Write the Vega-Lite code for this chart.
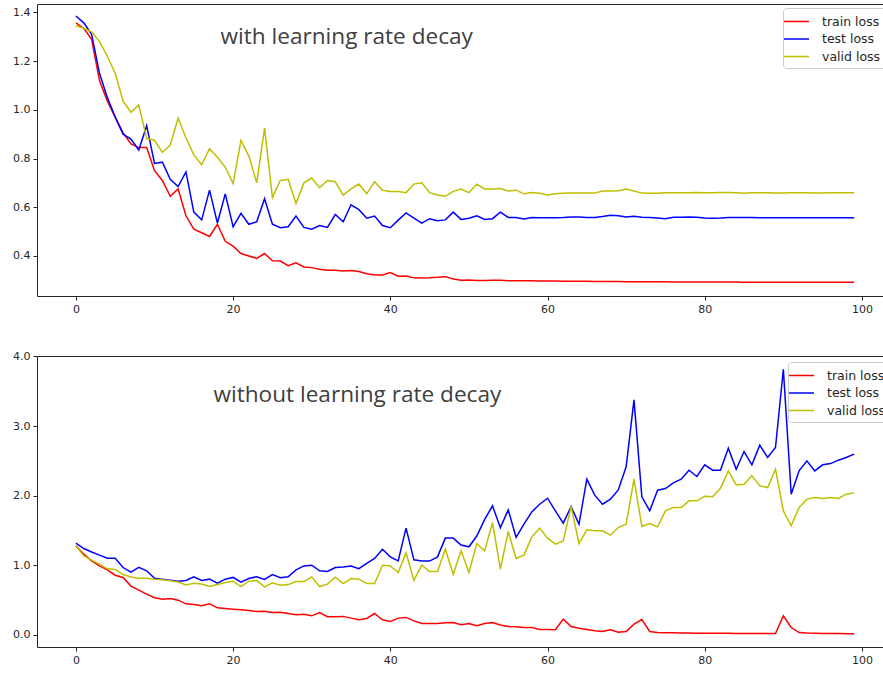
{
"$schema": "https://vega.github.io/schema/vega-lite/v6.json",
"padding": {"left": 12, "top": 3, "right": 0, "bottom": 0},
"bounds": "flush",
"spacing": 60,
"config": {
  "view": {"stroke": "#262626", "strokeWidth": 1},
  "axis": {"labelFont": "DejaVu Sans", "labelFontSize": 11, "labelColor": "#262626", "tickColor": "#262626", "tickSize": 4, "labelPadding": 3, "domain": false, "grid": false, "title": null},
  "legend": {"orient": "none", "symbolType": "M-1.667,0H1.667", "symbolSize": 225, "symbolStrokeWidth": 1.5, "labelFontSize": 12.5, "labelFont": "DejaVu Sans", "labelColor": "#262626", "fillColor": "rgba(255,255,255,0.8)", "strokeColor": "#cccccc", "padding": 5, "rowPadding": 2.5, "cornerRadius": 3, "labelOffset": 17}
},
"datasets": {
"decay": [
{"epoch":0,"train loss":1.357,"test loss":1.385,"valid loss":1.345},
{"epoch":1,"train loss":1.335,"test loss":1.357,"valid loss":1.335},
{"epoch":2,"train loss":1.29,"test loss":1.31,"valid loss":1.32},
{"epoch":3,"train loss":1.12,"test loss":1.15,"valid loss":1.28},
{"epoch":4,"train loss":1.035,"test loss":1.05,"valid loss":1.22},
{"epoch":5,"train loss":0.97,"test loss":0.97,"valid loss":1.15},
{"epoch":6,"train loss":0.905,"test loss":0.9,"valid loss":1.035},
{"epoch":7,"train loss":0.86,"test loss":0.88,"valid loss":0.99},
{"epoch":8,"train loss":0.845,"test loss":0.835,"valid loss":1.02},
{"epoch":9,"train loss":0.845,"test loss":0.935,"valid loss":0.882},
{"epoch":10,"train loss":0.75,"test loss":0.78,"valid loss":0.875},
{"epoch":11,"train loss":0.71,"test loss":0.785,"valid loss":0.825},
{"epoch":12,"train loss":0.645,"test loss":0.715,"valid loss":0.855},
{"epoch":13,"train loss":0.675,"test loss":0.685,"valid loss":0.965},
{"epoch":14,"train loss":0.565,"test loss":0.745,"valid loss":0.885},
{"epoch":15,"train loss":0.51,"test loss":0.58,"valid loss":0.815},
{"epoch":16,"train loss":0.495,"test loss":0.548,"valid loss":0.775},
{"epoch":17,"train loss":0.48,"test loss":0.67,"valid loss":0.84},
{"epoch":18,"train loss":0.53,"test loss":0.535,"valid loss":0.805},
{"epoch":19,"train loss":0.46,"test loss":0.655,"valid loss":0.765},
{"epoch":20,"train loss":0.44,"test loss":0.52,"valid loss":0.697},
{"epoch":21,"train loss":0.41,"test loss":0.575,"valid loss":0.875},
{"epoch":22,"train loss":0.4,"test loss":0.53,"valid loss":0.81},
{"epoch":23,"train loss":0.39,"test loss":0.54,"valid loss":0.7},
{"epoch":24,"train loss":0.41,"test loss":0.635,"valid loss":0.925},
{"epoch":25,"train loss":0.38,"test loss":0.53,"valid loss":0.64},
{"epoch":26,"train loss":0.379,"test loss":0.516,"valid loss":0.71},
{"epoch":27,"train loss":0.36,"test loss":0.52,"valid loss":0.715},
{"epoch":28,"train loss":0.372,"test loss":0.564,"valid loss":0.615},
{"epoch":29,"train loss":0.355,"test loss":0.517,"valid loss":0.7},
{"epoch":30,"train loss":0.352,"test loss":0.51,"valid loss":0.72},
{"epoch":31,"train loss":0.345,"test loss":0.525,"valid loss":0.68},
{"epoch":32,"train loss":0.341,"test loss":0.517,"valid loss":0.71},
{"epoch":33,"train loss":0.341,"test loss":0.57,"valid loss":0.705},
{"epoch":34,"train loss":0.338,"test loss":0.54,"valid loss":0.65},
{"epoch":35,"train loss":0.34,"test loss":0.61,"valid loss":0.675},
{"epoch":36,"train loss":0.336,"test loss":0.59,"valid loss":0.695},
{"epoch":37,"train loss":0.327,"test loss":0.555,"valid loss":0.655},
{"epoch":38,"train loss":0.322,"test loss":0.564,"valid loss":0.705},
{"epoch":39,"train loss":0.322,"test loss":0.525,"valid loss":0.67},
{"epoch":40,"train loss":0.332,"test loss":0.516,"valid loss":0.665},
{"epoch":41,"train loss":0.317,"test loss":0.547,"valid loss":0.665},
{"epoch":42,"train loss":0.318,"test loss":0.577,"valid loss":0.66},
{"epoch":43,"train loss":0.31,"test loss":0.555,"valid loss":0.695},
{"epoch":44,"train loss":0.309,"test loss":0.535,"valid loss":0.7},
{"epoch":45,"train loss":0.31,"test loss":0.553,"valid loss":0.66},
{"epoch":46,"train loss":0.312,"test loss":0.545,"valid loss":0.65},
{"epoch":47,"train loss":0.315,"test loss":0.548,"valid loss":0.645},
{"epoch":48,"train loss":0.305,"test loss":0.58,"valid loss":0.665},
{"epoch":49,"train loss":0.3,"test loss":0.55,"valid loss":0.675},
{"epoch":50,"train loss":0.301,"test loss":0.555,"valid loss":0.66},
{"epoch":51,"train loss":0.299,"test loss":0.565,"valid loss":0.695},
{"epoch":52,"train loss":0.299,"test loss":0.55,"valid loss":0.675},
{"epoch":53,"train loss":0.3,"test loss":0.553,"valid loss":0.675},
{"epoch":54,"train loss":0.3,"test loss":0.58,"valid loss":0.677},
{"epoch":55,"train loss":0.298,"test loss":0.558,"valid loss":0.667},
{"epoch":56,"train loss":0.298,"test loss":0.558,"valid loss":0.67},
{"epoch":57,"train loss":0.298,"test loss":0.552,"valid loss":0.655},
{"epoch":58,"train loss":0.298,"test loss":0.558,"valid loss":0.66},
{"epoch":59,"train loss":0.297,"test loss":0.557,"valid loss":0.657},
{"epoch":60,"train loss":0.297,"test loss":0.557,"valid loss":0.65},
{"epoch":61,"train loss":0.297,"test loss":0.557,"valid loss":0.655},
{"epoch":62,"train loss":0.296,"test loss":0.558,"valid loss":0.657},
{"epoch":63,"train loss":0.296,"test loss":0.56,"valid loss":0.658},
{"epoch":64,"train loss":0.296,"test loss":0.56,"valid loss":0.658},
{"epoch":65,"train loss":0.296,"test loss":0.558,"valid loss":0.658},
{"epoch":66,"train loss":0.295,"test loss":0.558,"valid loss":0.658},
{"epoch":67,"train loss":0.295,"test loss":0.562,"valid loss":0.667},
{"epoch":68,"train loss":0.295,"test loss":0.567,"valid loss":0.667},
{"epoch":69,"train loss":0.295,"test loss":0.565,"valid loss":0.668},
{"epoch":70,"train loss":0.294,"test loss":0.56,"valid loss":0.675},
{"epoch":71,"train loss":0.294,"test loss":0.563,"valid loss":0.667},
{"epoch":72,"train loss":0.294,"test loss":0.559,"valid loss":0.658},
{"epoch":73,"train loss":0.294,"test loss":0.558,"valid loss":0.657},
{"epoch":74,"train loss":0.294,"test loss":0.556,"valid loss":0.657},
{"epoch":75,"train loss":0.294,"test loss":0.553,"valid loss":0.659},
{"epoch":76,"train loss":0.293,"test loss":0.559,"valid loss":0.659},
{"epoch":77,"train loss":0.293,"test loss":0.559,"valid loss":0.659},
{"epoch":78,"train loss":0.293,"test loss":0.56,"valid loss":0.659},
{"epoch":79,"train loss":0.293,"test loss":0.559,"valid loss":0.66},
{"epoch":80,"train loss":0.293,"test loss":0.556,"valid loss":0.659},
{"epoch":81,"train loss":0.293,"test loss":0.555,"valid loss":0.659},
{"epoch":82,"train loss":0.293,"test loss":0.556,"valid loss":0.66},
{"epoch":83,"train loss":0.293,"test loss":0.558,"valid loss":0.66},
{"epoch":84,"train loss":0.293,"test loss":0.558,"valid loss":0.659},
{"epoch":85,"train loss":0.292,"test loss":0.558,"valid loss":0.657},
{"epoch":86,"train loss":0.292,"test loss":0.558,"valid loss":0.659},
{"epoch":87,"train loss":0.292,"test loss":0.557,"valid loss":0.659},
{"epoch":88,"train loss":0.292,"test loss":0.557,"valid loss":0.659},
{"epoch":89,"train loss":0.292,"test loss":0.557,"valid loss":0.658},
{"epoch":90,"train loss":0.292,"test loss":0.557,"valid loss":0.658},
{"epoch":91,"train loss":0.292,"test loss":0.557,"valid loss":0.659},
{"epoch":92,"train loss":0.292,"test loss":0.557,"valid loss":0.659},
{"epoch":93,"train loss":0.292,"test loss":0.557,"valid loss":0.659},
{"epoch":94,"train loss":0.292,"test loss":0.557,"valid loss":0.658},
{"epoch":95,"train loss":0.292,"test loss":0.557,"valid loss":0.658},
{"epoch":96,"train loss":0.292,"test loss":0.557,"valid loss":0.659},
{"epoch":97,"train loss":0.292,"test loss":0.557,"valid loss":0.659},
{"epoch":98,"train loss":0.292,"test loss":0.557,"valid loss":0.659},
{"epoch":99,"train loss":0.292,"test loss":0.557,"valid loss":0.659}
],
"nodecay": [
{"epoch":0,"train loss":1.279,"test loss":1.317,"valid loss":1.279},
{"epoch":1,"train loss":1.159,"test loss":1.24,"valid loss":1.135},
{"epoch":2,"train loss":1.063,"test loss":1.19,"valid loss":1.073},
{"epoch":3,"train loss":0.99,"test loss":1.145,"valid loss":1.015},
{"epoch":4,"train loss":0.934,"test loss":1.1,"valid loss":0.948},
{"epoch":5,"train loss":0.857,"test loss":1.1,"valid loss":0.94},
{"epoch":6,"train loss":0.824,"test loss":0.967,"valid loss":0.866},
{"epoch":7,"train loss":0.7,"test loss":0.9,"valid loss":0.83},
{"epoch":8,"train loss":0.642,"test loss":0.97,"valid loss":0.814},
{"epoch":9,"train loss":0.584,"test loss":0.92,"valid loss":0.814},
{"epoch":10,"train loss":0.532,"test loss":0.814,"valid loss":0.8},
{"epoch":11,"train loss":0.512,"test loss":0.8,"valid loss":0.79},
{"epoch":12,"train loss":0.522,"test loss":0.785,"valid loss":0.776},
{"epoch":13,"train loss":0.498,"test loss":0.77,"valid loss":0.76},
{"epoch":14,"train loss":0.445,"test loss":0.78,"valid loss":0.718},
{"epoch":15,"train loss":0.436,"test loss":0.835,"valid loss":0.742},
{"epoch":16,"train loss":0.417,"test loss":0.78,"valid loss":0.73},
{"epoch":17,"train loss":0.445,"test loss":0.8,"valid loss":0.694},
{"epoch":18,"train loss":0.388,"test loss":0.742,"valid loss":0.722},
{"epoch":19,"train loss":0.378,"test loss":0.8,"valid loss":0.752},
{"epoch":20,"train loss":0.368,"test loss":0.825,"valid loss":0.77},
{"epoch":21,"train loss":0.359,"test loss":0.756,"valid loss":0.694},
{"epoch":22,"train loss":0.35,"test loss":0.81,"valid loss":0.77},
{"epoch":23,"train loss":0.335,"test loss":0.835,"valid loss":0.78},
{"epoch":24,"train loss":0.34,"test loss":0.795,"valid loss":0.69},
{"epoch":25,"train loss":0.32,"test loss":0.866,"valid loss":0.747},
{"epoch":26,"train loss":0.325,"test loss":0.82,"valid loss":0.713},
{"epoch":27,"train loss":0.306,"test loss":0.835,"valid loss":0.722},
{"epoch":28,"train loss":0.29,"test loss":0.934,"valid loss":0.766},
{"epoch":29,"train loss":0.297,"test loss":0.99,"valid loss":0.766},
{"epoch":30,"train loss":0.273,"test loss":1.0,"valid loss":0.833},
{"epoch":31,"train loss":0.32,"test loss":0.92,"valid loss":0.694},
{"epoch":32,"train loss":0.26,"test loss":0.91,"valid loss":0.728},
{"epoch":33,"train loss":0.26,"test loss":0.967,"valid loss":0.828},
{"epoch":34,"train loss":0.265,"test loss":0.976,"valid loss":0.737},
{"epoch":35,"train loss":0.24,"test loss":0.99,"valid loss":0.809},
{"epoch":36,"train loss":0.216,"test loss":0.95,"valid loss":0.8},
{"epoch":37,"train loss":0.235,"test loss":1.025,"valid loss":0.737},
{"epoch":38,"train loss":0.306,"test loss":1.097,"valid loss":0.737},
{"epoch":39,"train loss":0.216,"test loss":1.23,"valid loss":1.0},
{"epoch":40,"train loss":0.192,"test loss":1.12,"valid loss":0.99},
{"epoch":41,"train loss":0.24,"test loss":1.063,"valid loss":0.895},
{"epoch":42,"train loss":0.25,"test loss":1.533,"valid loss":1.178},
{"epoch":43,"train loss":0.2,"test loss":1.078,"valid loss":0.785},
{"epoch":44,"train loss":0.163,"test loss":1.06,"valid loss":1.0},
{"epoch":45,"train loss":0.163,"test loss":1.06,"valid loss":0.909},
{"epoch":46,"train loss":0.163,"test loss":1.12,"valid loss":0.909},
{"epoch":47,"train loss":0.172,"test loss":1.39,"valid loss":1.23},
{"epoch":48,"train loss":0.177,"test loss":1.39,"valid loss":0.871},
{"epoch":49,"train loss":0.144,"test loss":1.29,"valid loss":1.207},
{"epoch":50,"train loss":0.163,"test loss":1.265,"valid loss":0.895},
{"epoch":51,"train loss":0.13,"test loss":1.42,"valid loss":1.312},
{"epoch":52,"train loss":0.163,"test loss":1.66,"valid loss":1.207},
{"epoch":53,"train loss":0.177,"test loss":1.853,"valid loss":1.614},
{"epoch":54,"train loss":0.14,"test loss":1.54,"valid loss":0.943},
{"epoch":55,"train loss":0.12,"test loss":1.796,"valid loss":1.485},
{"epoch":56,"train loss":0.115,"test loss":1.4,"valid loss":1.097},
{"epoch":57,"train loss":0.105,"test loss":1.59,"valid loss":1.145},
{"epoch":58,"train loss":0.105,"test loss":1.767,"valid loss":1.408},
{"epoch":59,"train loss":0.077,"test loss":1.877,"valid loss":1.533},
{"epoch":60,"train loss":0.077,"test loss":1.963,"valid loss":1.39},
{"epoch":61,"train loss":0.072,"test loss":1.78,"valid loss":1.303},
{"epoch":62,"train loss":0.225,"test loss":1.605,"valid loss":1.35},
{"epoch":63,"train loss":0.12,"test loss":1.844,"valid loss":1.844},
{"epoch":64,"train loss":0.096,"test loss":1.59,"valid loss":1.312},
{"epoch":65,"train loss":0.077,"test loss":2.237,"valid loss":1.509},
{"epoch":66,"train loss":0.057,"test loss":2.007,"valid loss":1.494},
{"epoch":67,"train loss":0.048,"test loss":1.877,"valid loss":1.494},
{"epoch":68,"train loss":0.072,"test loss":1.95,"valid loss":1.432},
{"epoch":69,"train loss":0.038,"test loss":2.083,"valid loss":1.542},
{"epoch":70,"train loss":0.048,"test loss":2.414,"valid loss":1.59},
{"epoch":71,"train loss":0.153,"test loss":3.376,"valid loss":2.237},
{"epoch":72,"train loss":0.22,"test loss":1.983,"valid loss":1.556},
{"epoch":73,"train loss":0.048,"test loss":1.782,"valid loss":1.6},
{"epoch":74,"train loss":0.033,"test loss":2.079,"valid loss":1.552},
{"epoch":75,"train loss":0.03,"test loss":2.102,"valid loss":1.782},
{"epoch":76,"train loss":0.028,"test loss":2.184,"valid loss":1.829},
{"epoch":77,"train loss":0.026,"test loss":2.237,"valid loss":1.829},
{"epoch":78,"train loss":0.025,"test loss":2.366,"valid loss":1.925},
{"epoch":79,"train loss":0.024,"test loss":2.275,"valid loss":1.925},
{"epoch":80,"train loss":0.023,"test loss":2.443,"valid loss":1.992},
{"epoch":81,"train loss":0.022,"test loss":2.366,"valid loss":1.983},
{"epoch":82,"train loss":0.022,"test loss":2.366,"valid loss":2.107},
{"epoch":83,"train loss":0.021,"test loss":2.682,"valid loss":2.356},
{"epoch":84,"train loss":0.02,"test loss":2.38,"valid loss":2.155},
{"epoch":85,"train loss":0.02,"test loss":2.634,"valid loss":2.165},
{"epoch":86,"train loss":0.02,"test loss":2.443,"valid loss":2.289},
{"epoch":87,"train loss":0.019,"test loss":2.725,"valid loss":2.141},
{"epoch":88,"train loss":0.019,"test loss":2.548,"valid loss":2.117},
{"epoch":89,"train loss":0.018,"test loss":2.691,"valid loss":2.38},
{"epoch":90,"train loss":0.273,"test loss":3.817,"valid loss":1.782},
{"epoch":91,"train loss":0.105,"test loss":2.021,"valid loss":1.566},
{"epoch":92,"train loss":0.033,"test loss":2.356,"valid loss":1.829},
{"epoch":93,"train loss":0.025,"test loss":2.5,"valid loss":1.95},
{"epoch":94,"train loss":0.022,"test loss":2.356,"valid loss":1.973},
{"epoch":95,"train loss":0.02,"test loss":2.443,"valid loss":1.96},
{"epoch":96,"train loss":0.019,"test loss":2.461,"valid loss":1.973},
{"epoch":97,"train loss":0.018,"test loss":2.51,"valid loss":1.96},
{"epoch":98,"train loss":0.017,"test loss":2.548,"valid loss":2.021},
{"epoch":99,"train loss":0.016,"test loss":2.596,"valid loss":2.04}
]
},
"vconcat": [
{
  "width": 856, "height": 292,
  "layer": [
    {
      "data": {"name": "decay"},
      "transform": [{"fold": ["train loss", "test loss", "valid loss"], "as": ["series", "loss"]}],
      "mark": {"type": "line", "strokeWidth": 1.5, "clip": true},
      "encoding": {
        "x": {"field": "epoch", "type": "quantitative", "scale": {"domain": [-4.95, 103.95], "nice": false, "zero": false}, "axis": {"values": [0, 20, 40, 60, 80, 100]}},
        "y": {"field": "loss", "type": "quantitative", "scale": {"domain": [0.2355, 1.4345], "nice": false, "zero": false}, "axis": {"values": [0.4, 0.6, 0.8, 1.0, 1.2, 1.4], "format": ".1f"}},
        "color": {"field": "series", "type": "nominal", "sort": null, "scale": {"domain": ["train loss", "test loss", "valid loss"], "range": ["#ff0000", "#0000ff", "#bfbf00"]}, "legend": {"title": null, "legendX": 746, "legendY": 4}}
      }
    },
    {
      "data": {"values": [{"epoch": 18.4, "loss": 1.27, "label": "with learning rate decay"}]},
      "mark": {"type": "text", "align": "left", "baseline": "alphabetic", "fontSize": 22.6, "font": "Open Sans", "color": "#404040"},
      "encoding": {
        "x": {"field": "epoch", "type": "quantitative"},
        "y": {"field": "loss", "type": "quantitative"},
        "text": {"field": "label"}
      }
    }
  ]
},
{
  "width": 856, "height": 291,
  "layer": [
    {
      "data": {"name": "nodecay"},
      "transform": [{"fold": ["train loss", "test loss", "valid loss"], "as": ["series", "loss"]}],
      "mark": {"type": "line", "strokeWidth": 1.5, "clip": true},
      "encoding": {
        "x": {"field": "epoch", "type": "quantitative", "scale": {"domain": [-4.95, 103.95], "nice": false, "zero": false}, "axis": {"values": [0, 20, 40, 60, 80, 100]}},
        "y": {"field": "loss", "type": "quantitative", "scale": {"domain": [-0.175, 4.007], "nice": false, "zero": false}, "axis": {"values": [0, 0.5, 1.0, 1.5, 2.0, 2.5, 3.0, 3.5, 4.0], "format": ".1f"}},
        "color": {"field": "series", "type": "nominal", "sort": null, "scale": {"domain": ["train loss", "test loss", "valid loss"], "range": ["#ff0000", "#0000ff", "#bfbf00"]}, "legend": {"title": null, "legendX": 751, "legendY": 6}}
      }
    },
    {
      "data": {"values": [{"epoch": 17.5, "loss": 3.35, "label": "without learning rate decay"}]},
      "mark": {"type": "text", "align": "left", "baseline": "alphabetic", "fontSize": 22.6, "font": "Open Sans", "color": "#404040"},
      "encoding": {
        "x": {"field": "epoch", "type": "quantitative"},
        "y": {"field": "loss", "type": "quantitative"},
        "text": {"field": "label"}
      }
    }
  ]
}
],
"resolve": {"scale": {"x": "independent", "y": "independent", "color": "independent"}, "legend": {"color": "independent"}}
}
